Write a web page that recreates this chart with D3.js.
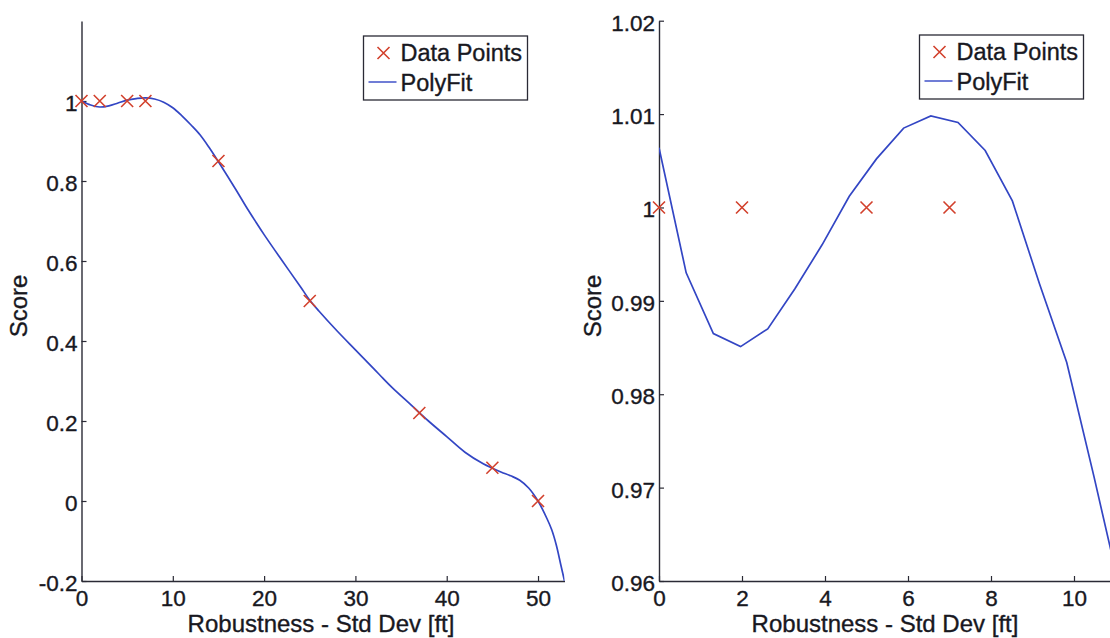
<!DOCTYPE html>
<html>
<head>
<meta charset="utf-8">
<script src="https://cdn.jsdelivr.net/npm/d3@7"></script>
<style>
  html, body { margin: 0; padding: 0; background: #fff; }
  svg text { font-family: "Liberation Sans", Arial, sans-serif; fill: #18181f; stroke: #18181f; stroke-width: 0.35px; }
</style>
</head>
<body>
<svg id="chart" width="1110" height="638"></svg>
<script>
// Left panel: measured scores and polynomial fit
const leftPointX = [0, 2, 5, 7, 15, 25, 37, 45, 50];
const leftPointY = [1, 1, 1, 1, 0.85, 0.5, 0.22, 0.083, 0];
const leftFitX = [0, 1, 2, 3, 4, 5, 6, 7, 8, 9, 10, 11, 12, 13, 14, 15, 16, 17, 18, 19, 20,
  22, 24, 25, 26, 28, 30, 32, 33, 34, 36, 37, 38, 40, 42, 44, 45, 46, 47, 48, 49, 50, 51, 51.5, 52, 52.5, 52.9];
const leftFitY = [1.0, 0.99, 0.985, 0.988, 0.995, 1.002, 1.006, 1.008, 1.005, 0.997, 0.983, 0.963, 0.94, 0.915, 0.883, 0.848, 0.812, 0.775, 0.737, 0.701, 0.666,
  0.6, 0.535, 0.502, 0.475, 0.425, 0.378, 0.331, 0.307, 0.284, 0.242, 0.221, 0.2, 0.161, 0.122, 0.093, 0.082, 0.072, 0.063, 0.052, 0.032, 0.0, -0.045, -0.072, -0.11, -0.16, -0.2];
const leftXTicks = [0, 10, 20, 30, 40, 50];
const leftYTicks = [-0.2, 0, 0.2, 0.4, 0.6, 0.8, 1];

// Right panel: close-up of the first four points and a coarser fit
const rightPointX = [0, 2, 5, 7];
const rightPointY = [1, 1, 1, 1];
const rightFitX = [0, 0.655, 1.31, 1.965, 2.62, 3.275, 3.93, 4.585, 5.24, 5.895, 6.55, 7.205, 7.86, 8.515, 9.17, 9.825, 10.48, 11.135];
const rightFitY = [1.0064, 0.993, 0.9865, 0.9851, 0.987, 0.9913, 0.996, 1.0012, 1.0052, 1.0085, 1.0098, 1.0091, 1.0061, 1.0007, 0.9918, 0.9834, 0.9712, 0.9585];
const rightXTicks = [0, 2, 4, 6, 8, 10];
const rightYTicks = [0.96, 0.97, 0.98, 0.99, 1, 1.01, 1.02];

const legendLabels = ["Data Points", "PolyFit"];
const xTitle = "Robustness - Std Dev [ft]";
const yTitle = "Score";

const lineColor = "#3346c4";
const markColor = "#d2402c";
const axisColor = "#2a2a35";

// Plain hyphen for negatives
const numFmt = d => String(+d.toFixed(4));

const svg = d3.select("#chart");

function panel(cfg) {
  const g = svg.append("g");
  const x = d3.scaleLinear().domain(cfg.xDomain).range(cfg.xRange);
  const y = d3.scaleLinear().domain(cfg.yDomain).range(cfg.yRange);

  const clipId = "clip" + cfg.id;
  g.append("clipPath").attr("id", clipId).append("rect")
    .attr("x", cfg.xRange[0]).attr("y", cfg.yRange[1])
    .attr("width", cfg.xRange[1] - cfg.xRange[0]).attr("height", cfg.yRange[0] - cfg.yRange[1]);

  // Axes (ticks point inward)
  const xAxis = g.append("g").attr("transform", `translate(0,${cfg.yRange[0]})`)
    .call(d3.axisBottom(x).tickValues(cfg.xTicks).tickSize(-5).tickSizeOuter(0).tickPadding(7).tickFormat(numFmt));
  const yAxis = g.append("g").attr("transform", `translate(${cfg.xRange[0]},0)`)
    .call(d3.axisLeft(y).tickValues(cfg.yTicks).tickSize(-5).tickSizeOuter(0).tickPadding(4).tickFormat(numFmt));
  [xAxis, yAxis].forEach(a => {
    a.selectAll("path.domain").attr("stroke", axisColor).attr("stroke-width", 1.4);
    a.selectAll(".tick line").attr("stroke", axisColor).attr("stroke-width", 1.2);
    a.selectAll(".tick text").style("font-size", "22.5px").attr("fill", "#18181f")
      .style("font-family", '"Liberation Sans", Arial, sans-serif');
  });
  xAxis.selectAll(".tick text").attr("dy", "0.78em");
  yAxis.selectAll(".tick text").attr("dy", "0.42em");

  // Fit curve
  const line = d3.line().x(d => x(d[0])).y(d => y(d[1])).curve(cfg.curve);
  g.append("path")
    .datum(cfg.fitX.map((v, i) => [v, cfg.fitY[i]]))
    .attr("clip-path", `url(#${clipId})`)
    .attr("d", line).attr("fill", "none").attr("stroke", lineColor).attr("stroke-width", 1.7);

  // Data point crosses
  const s = 6;
  g.append("g").selectAll("path.pt")
    .data(cfg.ptX.map((v, i) => [v, cfg.ptY[i]]))
    .join("path").attr("class", "pt")
    .attr("d", d => {
      const cx = x(d[0]), cy = y(d[1]);
      return `M${cx - s},${cy - s}L${cx + s},${cy + s}M${cx - s},${cy + s}L${cx + s},${cy - s}`;
    })
    .attr("stroke", markColor).attr("stroke-width", 1.6).attr("fill", "none");

  // Axis titles
  g.append("text").attr("x", cfg.xTitleX).attr("y", 632).attr("text-anchor", "middle")
    .style("font-size", "24px").text(xTitle);
  g.append("text").attr("transform", `translate(${cfg.yTitleX},${cfg.yTitleY}) rotate(-90)`)
    .attr("text-anchor", "middle").style("font-size", "24px").text(yTitle);

  // Legend
  const lg = g.append("g").attr("transform", `translate(${cfg.legend[0]},${cfg.legend[1]})`);
  lg.append("rect").attr("width", 164).attr("height", 64).attr("fill", "#fff")
    .attr("stroke", axisColor).attr("stroke-width", 1.3);
  lg.append("path").attr("d", "M14,11L26,23M14,23L26,11").attr("stroke", markColor).attr("stroke-width", 1.6);
  lg.append("line").attr("x1", 5).attr("x2", 33).attr("y1", 46).attr("y2", 46)
    .attr("stroke", lineColor).attr("stroke-width", 1.4);
  lg.append("text").attr("x", 37).attr("y", 25).style("font-size", "23.5px").text(legendLabels[0]);
  lg.append("text").attr("x", 37).attr("y", 55).style("font-size", "23.5px").text(legendLabels[1]);
}

panel({
  id: "L",
  xDomain: [0, 52.9], xRange: [81.5, 564.5],
  yDomain: [-0.2, 1.2], yRange: [581, 21],
  xTicks: leftXTicks, yTicks: leftYTicks,
  fitX: leftFitX, fitY: leftFitY, ptX: leftPointX, ptY: leftPointY,
  curve: d3.curveCatmullRom.alpha(0.5),
  xTitleX: 321, yTitleX: 27, yTitleY: 306, legend: [363.5, 36]
});

panel({
  id: "R",
  xDomain: [0, 11], xRange: [659, 1115.5],
  yDomain: [0.96, 1.02], yRange: [581, 20.7],
  xTicks: rightXTicks, yTicks: rightYTicks,
  fitX: rightFitX, fitY: rightFitY, ptX: rightPointX, ptY: rightPointY,
  curve: d3.curveLinear,
  xTitleX: 885, yTitleX: 601, yTitleY: 306, legend: [919.5, 35]
});
</script>
</body>
</html>
